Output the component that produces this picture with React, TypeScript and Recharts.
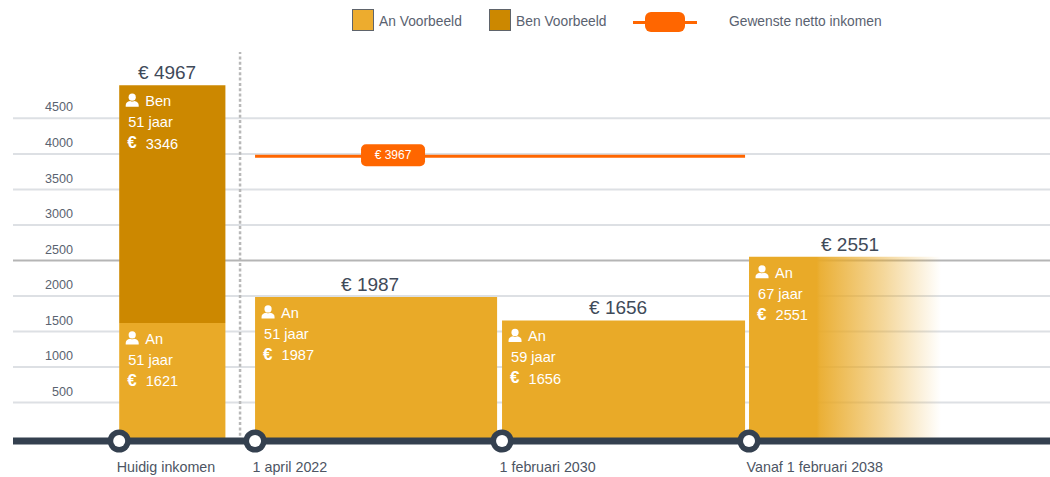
import {
  ComposedChart,
  Area,
  Line,
  XAxis,
  YAxis,
  CartesianGrid,
  Legend,
  ReferenceDot,
  ReferenceLine,
} from "recharts"

const FONT = "'Liberation Sans', Arial, sans-serif"

// timeline: 0 = 1 april 2022, 1 = 1 februari 2030, 2 = 1 februari 2038
const periodStart = [-0.55, 0, 1, 2]
const periodEnd = [-0.12, 0.98, 1.984, 2.777]
const periodLabels = ["Huidig inkomen", "1 april 2022", "1 februari 2030", "Vanaf 1 februari 2038"]
const anValues = [1621, 1987, 1656, 2551]
const benValues = [3346, null, null, null]
const anAges = [51, 51, 59, 67]
const benAges = [51, null, null, null]
const wantedValues = [null, 3967, 3967, null]
const totals = [4967, 1987, 1656, 2551]
const totalLabelX = [-0.356, 0.466, 1.47, 2.409]
const yTicks = [500, 1000, 1500, 2000, 3000, 3500, 4000, 4500]
const yLabels = [500, 1000, 1500, 2000, 2500, 3000, 3500, 4000, 4500]

const rows: any[] = []
periodStart.forEach((start, i) => {
  const row = { an: anValues[i], ben: benValues[i], wanted: wantedValues[i] }
  rows.push({ x: start, ...row })
  rows.push({ x: periodEnd[i], ...row })
  rows.push({ x: periodEnd[i] + 0.001, an: null, ben: null, wanted: null })
})

function YTick({ y, payload }: any) {
  return (
    <text x={73} y={y - 10.2} textAnchor="end" dominantBaseline="middle" fontSize={12.6} fontFamily={FONT} fill="#5a6270">
      {payload.value}
    </text>
  )
}

function XTick({ x, y, index }: any) {
  return (
    <g>
      <circle cx={x} cy={y} r={11.5} fill="#34404f" />
      <circle cx={x} cy={y} r={6} fill="#fff" />
      <text x={x - 2.5} y={y + 27} dominantBaseline="middle" fontSize={14.3} fontFamily={FONT} fill="#4d5563">
        {periodLabels[index]}
      </text>
    </g>
  )
}

function InfoBlock({ cx, cy, name, age, amount }: any) {
  const textProps = { fontSize: 14.6, fontFamily: FONT, fill: "#fff", dominantBaseline: "middle" as const }
  const ix = cx + 13
  const iy = cy + 15
  return (
    <g>
      <circle cx={ix} cy={iy - 3} r={3.6} fill="#fff" />
      <path
        d={`M${ix - 6.5} ${iy + 6.5} v-1.5 q0 -3.5 4.5 -4.2 q2 1 4 0 q4.5 .7 4.5 4.2 v1.5 z`}
        fill="#fff"
      />
      <text x={cx + 26} y={cy + 17} {...textProps}>{name}</text>
      <text x={cx + 9} y={cy + 38} {...textProps}>{age} jaar</text>
      <text x={cx + 8} y={cy + 58.5} {...textProps} fontSize={17} fontWeight="bold">€</text>
      <text x={cx + 26.5} y={cy + 59.5} {...textProps}>{amount}</text>
    </g>
  )
}

function ChartLegend() {
  const text = { fontSize: 13.8, color: "#5a6270", fontFamily: FONT, position: "absolute" as const, top: 14, lineHeight: "16px", whiteSpace: "nowrap" as const }
  const swatch = { position: "absolute" as const, top: 9, width: 20, height: 20, border: "1px solid #5f646b" }
  return (
    <div style={{ position: "relative", width: 1050, height: 40 }}>
      <div style={{ ...swatch, left: 352, background: "#EDAC2E" }} />
      <div style={{ ...text, left: 379 }}>An Voorbeeld</div>
      <div style={{ ...swatch, left: 489, background: "#CC8800" }} />
      <div style={{ ...text, left: 516 }}>Ben Voorbeeld</div>
      <div style={{ position: "absolute", left: 633, top: 21, width: 64, height: 3, background: "#FF6600" }} />
      <div style={{ position: "absolute", left: 645, top: 12, width: 40, height: 20, borderRadius: 6, background: "#FF6600" }} />
      <div style={{ ...text, left: 729 }}>Gewenste netto inkomen</div>
    </div>
  )
}

export default function App() {
  return (
    <div style={{ position: "absolute", left: 0, top: 0 }}>
      <ComposedChart
        width={1050}
        height={477}
        data={rows}
        margin={{ top: 12, right: 0, bottom: 0, left: 0 }}
      >
        <defs>
          <linearGradient id="fade" x1="0" y1="0" x2="1" y2="0">
            <stop offset="0.849" stopColor="#E9AA28" stopOpacity={1} />
            <stop offset="0.853" stopColor="#E9AA28" stopOpacity={0.93} />
            <stop offset="0.93" stopColor="#E9AA28" stopOpacity={0.47} />
            <stop offset="1" stopColor="#E9AA28" stopOpacity={0} />
          </linearGradient>
        </defs>

        <Legend verticalAlign="top" height={40} wrapperStyle={{ left: 0, top: 0, width: 1050 }} content={() => <ChartLegend />} />

        <CartesianGrid vertical={false} horizontalValues={yTicks} stroke="#dde0e4" strokeWidth={2} />
        <CartesianGrid vertical={false} horizontalValues={[2500]} stroke="#b5b5b5" strokeWidth={2} />

        <YAxis
          type="number"
          width={13}
          domain={[-41, 5434]}
          ticks={yLabels}
          interval={0}
          axisLine={false}
          tickLine={false}
          tick={<YTick />}
        />

        <ReferenceLine x={-0.0607} stroke="#b8b8b8" strokeWidth={2.5} strokeDasharray="3 2.3" />

        <Area dataKey="an" stackId="1" type="linear" fill="url(#fade)" fillOpacity={1} stroke="none" dot={false} activeDot={false} isAnimationActive={false} />
        <Area dataKey="ben" stackId="1" type="linear" fill="#CC8800" fillOpacity={1} stroke="none" dot={false} activeDot={false} isAnimationActive={false} />
        <Line dataKey="wanted" type="linear" connectNulls stroke="#FF6600" strokeWidth={3} dot={false} activeDot={false} isAnimationActive={false} />

        <XAxis
          dataKey="x"
          type="number"
          domain={[-0.98, 3.2186]}
          ticks={periodStart}
          interval={0}
          height={36}
          tickSize={0}
          tickMargin={0}
          axisLine={{ stroke: "#34404f", strokeWidth: 7 }}
          tickLine={false}
          tick={<XTick />}
        />

        <ReferenceDot
          x={0.5587}
          y={3967}
          r={0}
          shape={(p: any) => (
            <g>
              <rect x={p.cx - 32} y={p.cy - 12} width={64} height={22} rx={5} fill="#FF6600" />
              <text x={p.cx} y={p.cy - 0.5} textAnchor="middle" dominantBaseline="middle" fontSize={12} fontFamily={FONT} fill="#fff">
                € {wantedValues[1]}
              </text>
            </g>
          )}
        />

        {totals.map((t, i) => (
          <ReferenceDot
            key={i}
            x={totalLabelX[i]}
            y={t}
            r={0}
            shape={(p: any) => (
              <text x={p.cx} y={p.cy - 11} textAnchor="middle" dominantBaseline="middle" fontSize={19} fontFamily={FONT} fill="#3f4a59">
                € {t}
              </text>
            )}
          />
        ))}

        {periodStart.map((start, i) => (
          <ReferenceDot
            key={i}
            x={start}
            y={anValues[i]}
            r={0}
            shape={(p: any) => <InfoBlock cx={p.cx} cy={p.cy} name="An" age={anAges[i]} amount={anValues[i]} />}
          />
        ))}
        <ReferenceDot
          x={periodStart[0]}
          y={totals[0]}
          r={0}
          shape={(p: any) => <InfoBlock cx={p.cx} cy={p.cy} name="Ben" age={benAges[0]} amount={benValues[0]} />}
        />
      </ComposedChart>
    </div>
  )
}
